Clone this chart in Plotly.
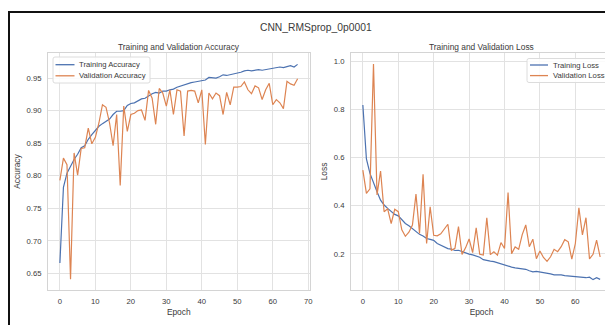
import plotly.graph_objects as go

epochs = list(range(68))

train_acc = [0.666, 0.782, 0.804, 0.815, 0.825, 0.833, 0.843, 0.846, 0.856, 0.863,
             0.869, 0.876, 0.880, 0.884, 0.887, 0.894, 0.899, 0.899, 0.900, 0.908,
             0.911, 0.912, 0.915, 0.918, 0.919, 0.923, 0.926, 0.928, 0.927, 0.930,
             0.930, 0.932, 0.933, 0.936, 0.938, 0.940, 0.941, 0.943, 0.944, 0.945,
             0.946, 0.947, 0.951, 0.951, 0.950, 0.952, 0.955, 0.954, 0.955, 0.956,
             0.957, 0.959, 0.961, 0.962, 0.961, 0.962, 0.963, 0.962, 0.963, 0.964,
             0.964, 0.965, 0.967, 0.966, 0.967, 0.969, 0.967, 0.971]

val_acc = [0.793, 0.827, 0.817, 0.641, 0.835, 0.801, 0.842, 0.843, 0.873, 0.849,
           0.859, 0.881, 0.909, 0.905, 0.881, 0.846, 0.894, 0.785, 0.907, 0.868,
           0.894, 0.896, 0.900, 0.901, 0.885, 0.931, 0.919, 0.879, 0.934, 0.927,
           0.907, 0.932, 0.894, 0.932, 0.930, 0.861, 0.930, 0.931, 0.930, 0.912,
           0.932, 0.848, 0.927, 0.918, 0.927, 0.923, 0.894, 0.928, 0.909, 0.936,
           0.936, 0.937, 0.944, 0.932, 0.926, 0.938, 0.935, 0.917, 0.932, 0.942,
           0.909, 0.917, 0.912, 0.903, 0.945, 0.941, 0.939, 0.949]

train_loss = [0.818, 0.594, 0.534, 0.493, 0.458, 0.423, 0.403, 0.389, 0.378, 0.364,
              0.358, 0.340, 0.326, 0.317, 0.306, 0.292, 0.281, 0.274, 0.264, 0.260,
              0.256, 0.243, 0.236, 0.229, 0.222, 0.220, 0.214, 0.215, 0.209, 0.203,
              0.199, 0.196, 0.192, 0.186, 0.176, 0.172, 0.170, 0.168, 0.163, 0.158,
              0.153, 0.148, 0.145, 0.142, 0.140, 0.138, 0.136, 0.130, 0.125, 0.127,
              0.125, 0.123, 0.120, 0.117, 0.113, 0.114, 0.113, 0.110, 0.108, 0.108,
              0.107, 0.105, 0.102, 0.101, 0.103, 0.093, 0.101, 0.094]

val_loss = [0.548, 0.451, 0.470, 0.988, 0.445, 0.544, 0.375, 0.387, 0.326, 0.385,
            0.375, 0.300, 0.273, 0.290, 0.320, 0.448, 0.285, 0.530, 0.243, 0.395,
            0.277, 0.275, 0.283, 0.305, 0.323, 0.215, 0.223, 0.313, 0.198, 0.225,
            0.262, 0.205, 0.308, 0.198, 0.195, 0.350, 0.197, 0.209, 0.195, 0.247,
            0.222, 0.455, 0.201, 0.229, 0.219, 0.280, 0.320, 0.230, 0.261, 0.180,
            0.212, 0.185, 0.169, 0.188, 0.219, 0.209, 0.230, 0.259, 0.250, 0.178,
            0.243, 0.391, 0.279, 0.350, 0.179, 0.198, 0.257, 0.187]

x_ticks = [0, 10, 20, 30, 40, 50, 60, 70]
acc_ticks = [0.65, 0.70, 0.75, 0.80, 0.85, 0.90, 0.95]
loss_ticks = [0.2, 0.4, 0.6, 0.8, 1.0]

suptitle = "CNN_RMSprop_0p0001"
titles = ["Training and Validation Accuracy", "Training and Validation Loss"]
legend_acc = ["Training Accuracy", "Validation Accuracy"]
legend_loss = ["Training Loss", "Validation Loss"]

BLUE = "#4c72b0"
ORANGE = "#dd8452"
FONT = "Liberation Sans, Arial, sans-serif"
TXT = "#3a3a3a"

# the page body adds an 8px offset, so the figure is drawn 8px smaller
OFF = 8
W, H = 613 - OFF, 325 - OFF
ML, MR, MT, MB = 48 - OFF, 1, 53 - OFF, 35
PW = W - ML - MR
PH = H - MT - MB


def px_x(p):
    """window pixel x -> paper coordinate"""
    return (p - OFF - ML) / PW


def px_y(p):
    """window pixel y -> paper coordinate"""
    return (H - MB - (p - OFF)) / PH


fig = go.Figure()
fig.add_trace(go.Scatter(x=epochs, y=train_acc, mode="lines", name=legend_acc[0],
                         line=dict(color=BLUE, width=1.2), xaxis="x", yaxis="y"))
fig.add_trace(go.Scatter(x=epochs, y=val_acc, mode="lines", name=legend_acc[1],
                         line=dict(color=ORANGE, width=1.2), xaxis="x", yaxis="y"))
fig.add_trace(go.Scatter(x=epochs, y=train_loss, mode="lines", name=legend_loss[0],
                         line=dict(color=BLUE, width=1.2), xaxis="x2", yaxis="y2"))
fig.add_trace(go.Scatter(x=epochs, y=val_loss, mode="lines", name=legend_loss[1],
                         line=dict(color=ORANGE, width=1.2), xaxis="x2", yaxis="y2"))

axis_common = dict(showgrid=True, gridcolor="#e2e2e2", gridwidth=1, zeroline=False,
                   showline=True, linecolor="#d4d4d4", linewidth=1, mirror=True,
                   ticks="outside", ticklen=4, tickcolor="rgba(0,0,0,0)",
                   tickfont=dict(size=7.7, color=TXT, family=FONT), automargin=False)

d1 = [0, px_x(309.5)]
d2 = [px_x(351), 1]

fig.update_layout(
    width=W, height=H,
    margin=dict(l=ML, r=MR, t=MT, b=MB),
    paper_bgcolor="white", plot_bgcolor="white",
    font=dict(family=FONT, color=TXT),
    showlegend=False,
    xaxis=dict(domain=d1, anchor="y", range=[-3.35, 70.35], tickvals=x_ticks,
               title=dict(text="Epoch", font=dict(size=8.4, color=TXT), standoff=3), **axis_common),
    yaxis=dict(domain=[0, 1], anchor="x", range=[0.6245, 0.9885], tickvals=acc_ticks,
               tickformat=".2f",
               title=dict(text="Accuracy", font=dict(size=8.4, color=TXT), standoff=4), **axis_common),
    xaxis2=dict(domain=d2, anchor="y2", range=[-3.35, 70.35], tickvals=x_ticks,
                ticklabeloverflow="allow",
                title=dict(text="Epoch", font=dict(size=8.4, color=TXT), standoff=3), **axis_common),
    yaxis2=dict(domain=[0, 1], anchor="x2", range=[0.05, 1.034], tickvals=loss_ticks,
                tickformat=".1f",
                title=dict(text="Loss", font=dict(size=8.4, color=TXT), standoff=4), **axis_common),
)

fig.add_annotation(text=suptitle, xref="paper", yref="paper", x=px_x(316), y=px_y(27),
                   xanchor="center", yanchor="middle", showarrow=False,
                   font=dict(size=10.3, color=TXT, family=FONT))
fig.add_annotation(text=titles[0], xref="paper", yref="paper", x=(d1[0] + d1[1]) / 2, y=px_y(46.7),
                   xanchor="center", yanchor="middle", showarrow=False,
                   font=dict(size=8.4, color=TXT, family=FONT))
fig.add_annotation(text=titles[1], xref="paper", yref="paper", x=(d2[0] + d2[1]) / 2, y=px_y(46.7),
                   xanchor="center", yanchor="middle", showarrow=False,
                   font=dict(size=8.4, color=TXT, family=FONT))


def rounded_box(x0, y0, x1, y1, r=2):
    """SVG path of a rounded rectangle in paper coordinates, given window pixels"""
    X0, X1 = px_x(x0), px_x(x1)
    Y0, Y1 = px_y(y0), px_y(y1)
    rx, ry = r / PW, r / PH
    return (f"M{X0 + rx},{Y0} L{X1 - rx},{Y0} Q{X1},{Y0} {X1},{Y0 - ry} "
            f"L{X1},{Y1 + ry} Q{X1},{Y1} {X1 - rx},{Y1} L{X0 + rx},{Y1} "
            f"Q{X0},{Y1} {X0},{Y1 + ry} L{X0},{Y0 - ry} Q{X0},{Y0} {X0 + rx},{Y0} Z")


def draw_legend(labels, colors, box, line_x, text_x, rows):
    fig.add_shape(type="path", xref="paper", yref="paper", path=rounded_box(*box),
                  line=dict(color="#dcdcdc", width=1), fillcolor="rgba(255,255,255,0.85)",
                  layer="above")
    for lab, col, ry in zip(labels, colors, rows):
        fig.add_shape(type="line", xref="paper", yref="paper",
                      x0=px_x(line_x[0]), x1=px_x(line_x[1]), y0=px_y(ry), y1=px_y(ry),
                      line=dict(color=col, width=1.3), layer="above")
        fig.add_annotation(text=lab, xref="paper", yref="paper", x=px_x(text_x), y=px_y(ry),
                           xanchor="left", yanchor="middle", showarrow=False,
                           font=dict(size=7.7, color=TXT, family=FONT))


draw_legend(legend_acc, [BLUE, ORANGE], (53, 57, 150, 83), (55.5, 74.5), 77, (64.7, 75.8))
draw_legend(legend_loss, [BLUE, ORANGE], (527, 58.5, 610, 82.5), (530, 548), 551, (65, 75.6))

# figure frame (black border, cropped on right and bottom)
fig.add_shape(type="rect", xref="paper", yref="paper",
              x0=px_x(9), x1=px_x(640), y0=px_y(345), y1=px_y(12),
              line=dict(color="#111111", width=2), fillcolor="rgba(0,0,0,0)", layer="above")

fig.write_html("out.html")
